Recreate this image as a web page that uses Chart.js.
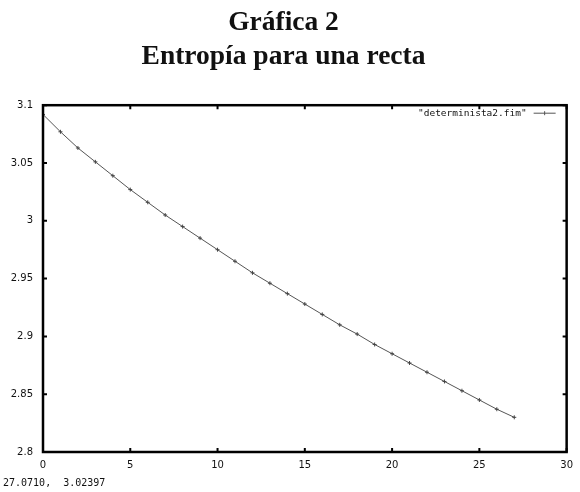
<!DOCTYPE html>
<html>
<head>
<meta charset="utf-8">
<script src="https://cdn.jsdelivr.net/npm/chart.js@4"></script>
<style>
  html, body { margin: 0; padding: 0; background: #fff; }
  #wrap { width: 580px; height: 492px; position: relative; }
</style>
</head>
<body>
<div id="wrap"><canvas id="grafica"></canvas></div>
<script>
// Datos
const pasos = [0, 1, 2, 3, 4, 5, 6, 7, 8, 9, 10, 11, 12, 13, 14, 15, 16, 17, 18, 19, 20, 21, 22, 23, 24, 25, 26, 27];
const entropia = [3.092, 3.077, 3.063, 3.051, 3.039, 3.027, 3.016, 3.005, 2.995, 2.985,
  2.975, 2.965, 2.955, 2.946, 2.937, 2.928, 2.919, 2.910, 2.902, 2.893,
  2.885, 2.877, 2.869, 2.861, 2.853, 2.845, 2.837, 2.830];
const ticksX = [0, 5, 10, 15, 20, 25, 30];
const ticksY = [2.8, 2.85, 2.9, 2.95, 3, 3.05, 3.1];
const nombreSerie = '"determinista2.fim"';
const coordenadas = "27.0710,  3.02397";

const fuenteEje = { family: "DejaVu Sans", size: 10 };

// Marco con marcas hacia dentro, leyenda y texto de coordenadas
const marcoGnuplot = {
  id: "marcoGnuplot",
  afterDatasetsDraw(chart) {
    const { ctx, chartArea: a, scales } = chart;
    ctx.save();
    ctx.strokeStyle = "#000";
    ctx.lineWidth = 2.5;
    ctx.strokeRect(a.left, a.top, a.right - a.left, a.bottom - a.top);

    ctx.lineWidth = 2;
    const largo = 4;
    ticksX.forEach((v) => {
      const x = scales.x.getPixelForValue(v);
      ctx.beginPath();
      ctx.moveTo(x, a.bottom);
      ctx.lineTo(x, a.bottom - largo);
      ctx.moveTo(x, a.top);
      ctx.lineTo(x, a.top + largo);
      ctx.stroke();
    });
    ticksY.forEach((v) => {
      const y = scales.y.getPixelForValue(v);
      ctx.beginPath();
      ctx.moveTo(a.left, y);
      ctx.lineTo(a.left + largo, y);
      ctx.moveTo(a.right, y);
      ctx.lineTo(a.right - largo, y);
      ctx.stroke();
    });

    // leyenda
    const yl = a.top + 8;
    ctx.fillStyle = "#111";
    ctx.font = "9.5px 'DejaVu Sans Mono'";
    ctx.textAlign = "right";
    ctx.textBaseline = "middle";
    ctx.fillText(nombreSerie, a.right - 40, yl);
    ctx.strokeStyle = "#555";
    ctx.lineWidth = 1;
    ctx.beginPath();
    ctx.moveTo(a.right - 33, yl);
    ctx.lineTo(a.right - 11, yl);
    ctx.moveTo(a.right - 22, yl - 2);
    ctx.lineTo(a.right - 22, yl + 2);
    ctx.stroke();

    // coordenadas abajo a la izquierda
    ctx.font = "10px 'DejaVu Sans Mono'";
    ctx.textAlign = "left";
    ctx.fillStyle = "#111";
    ctx.fillText(coordenadas, 3, 483);
    ctx.restore();
  },
};

new Chart(document.getElementById("grafica"), {
  type: "line",
  data: {
    labels: pasos,
    datasets: [{
      label: nombreSerie,
      data: pasos.map((x, i) => ({ x: x, y: entropia[i] })),
      borderColor: "#555",
      borderWidth: 1,
      pointStyle: "cross",
      pointRadius: 2,
      pointBorderColor: "#444",
      pointBorderWidth: 1,
      tension: 0,
    }],
  },
  options: {
    responsive: true,
    maintainAspectRatio: false,
    animation: false,
    layout: { padding: { left: 0, right: 13, top: 0, bottom: 0 } },
    plugins: {
      legend: { display: false },
      tooltip: { enabled: false },
      title: {
        display: true,
        text: ["Gráfica 2", "Entropía para una recta"],
        color: "#111",
        font: { family: "Liberation Serif", size: 27.5, weight: "bold", lineHeight: 1.24 },
        padding: { top: 6, bottom: 31 },
      },
    },
    scales: {
      x: {
        type: "linear",
        min: 0,
        max: 30,
        afterFit(s) { s.height = 40; },
        afterBuildTicks(s) { s.ticks = ticksX.map((v) => ({ value: v })); },
        grid: { display: false, drawTicks: false },
        border: { display: false },
        ticks: { color: "#111", font: fuenteEje, padding: 7, maxRotation: 0 },
      },
      y: {
        type: "linear",
        min: 2.8,
        max: 3.1,
        afterFit(s) { s.width = 43; },
        afterBuildTicks(s) { s.ticks = ticksY.map((v) => ({ value: v })); },
        grid: { display: false, drawTicks: false },
        border: { display: false },
        ticks: {
          color: "#111",
          font: fuenteEje,
          padding: 10,
          callback: (v) => String(parseFloat(v.toFixed(2))),
        },
      },
    },
  },
  plugins: [marcoGnuplot],
});
</script>
</body>
</html>
